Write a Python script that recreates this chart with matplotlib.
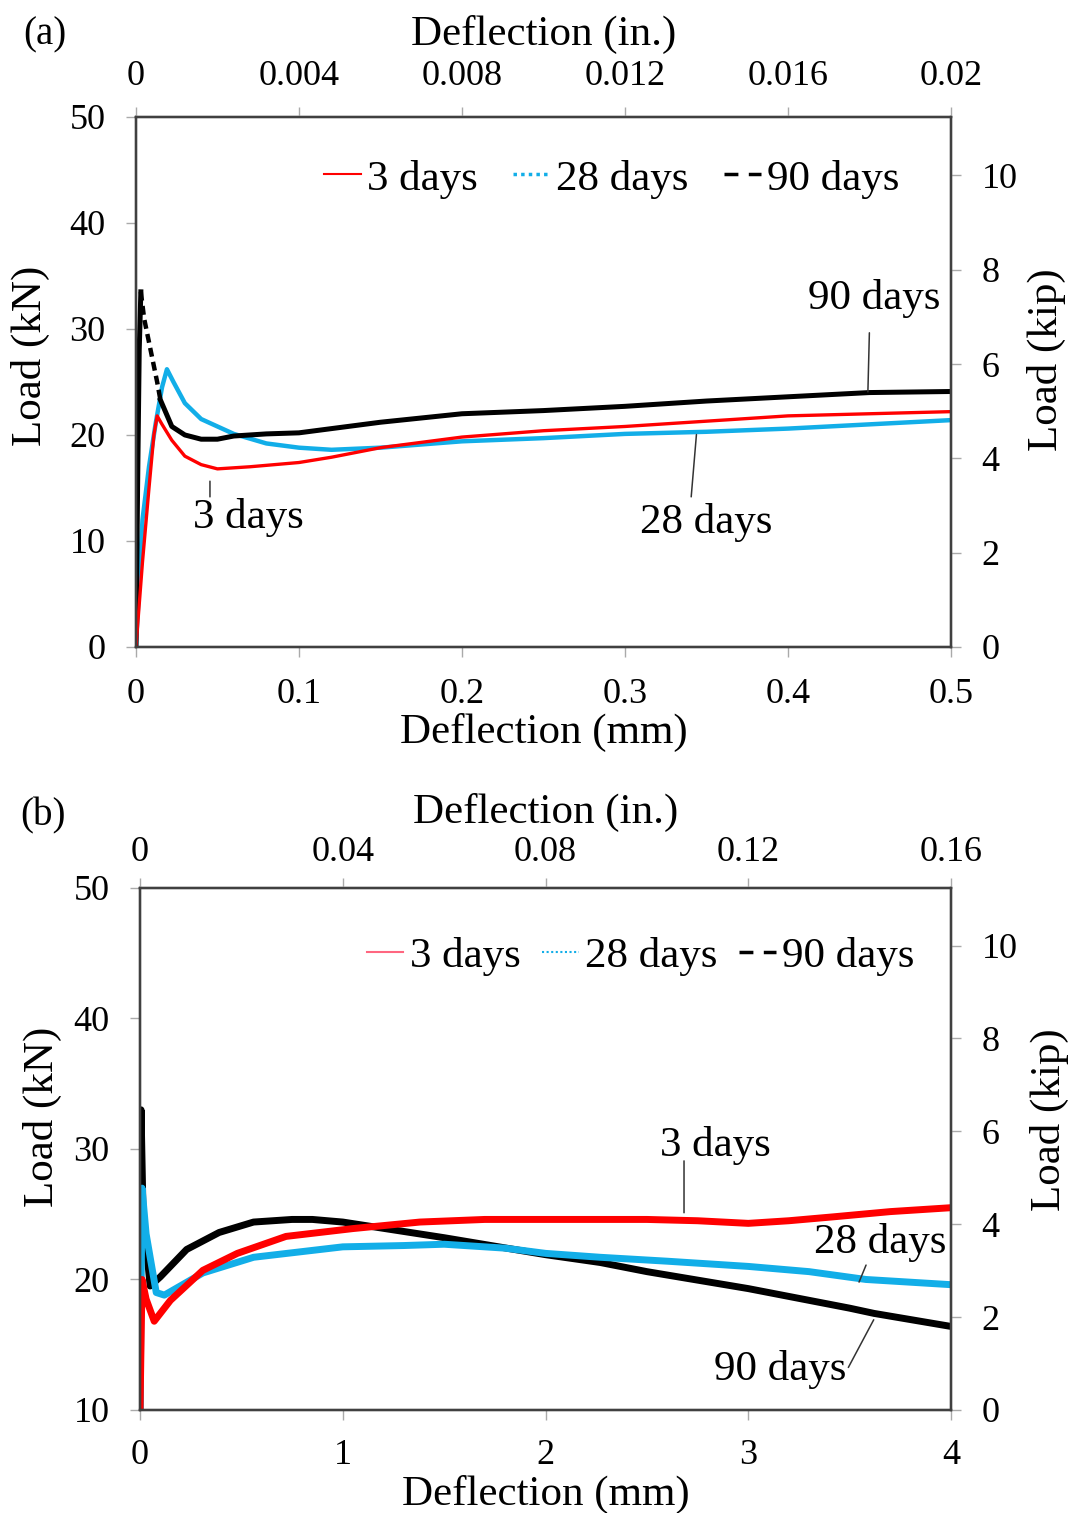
import numpy as np
import matplotlib.pyplot as plt
from matplotlib.lines import Line2D

plt.rcParams['font.family'] = ['Liberation Serif', 'DejaVu Serif']

# ---- panel (a) data: deflection (mm), load (kN)
a_x_3d = [0, 0.004, 0.008, 0.011, 0.013, 0.016, 0.022, 0.03, 0.04, 0.05, 0.07, 0.1,
          0.12, 0.15, 0.2, 0.25, 0.3, 0.35, 0.4, 0.45, 0.5]
a_y_3d = [0, 8, 15, 20, 21.8, 21, 19.5, 18, 17.2, 16.8, 17.0, 17.4,
          17.9, 18.8, 19.8, 20.4, 20.8, 21.3, 21.8, 22.0, 22.2]

a_x_28d = [0, 0.002, 0.004, 0.008, 0.012, 0.016, 0.019, 0.023, 0.03, 0.04, 0.05, 0.06,
           0.08, 0.1, 0.12, 0.15, 0.2, 0.25, 0.3, 0.35, 0.4, 0.45, 0.5]
a_y_28d = [0, 6, 12, 17, 21, 24.5, 26.2, 25, 23, 21.5, 20.8, 20.1,
           19.2, 18.8, 18.6, 18.8, 19.4, 19.7, 20.1, 20.3, 20.6, 21.0, 21.4]

a_x_90d_rise = [0, 0.001, 0.002, 0.003]
a_y_90d_rise = [0, 15, 28, 33.5]
a_x_90d_drop = [0.003, 0.005, 0.009, 0.013, 0.015]
a_y_90d_drop = [33.5, 31, 28, 25, 23.3]
a_x_90d = [0.015, 0.022, 0.03, 0.04, 0.05, 0.06, 0.08, 0.1, 0.15, 0.2, 0.25, 0.3,
           0.35, 0.4, 0.45, 0.5]
a_y_90d = [23.3, 20.8, 20.0, 19.6, 19.6, 19.9, 20.1, 20.2, 21.2, 22.0, 22.3, 22.7,
           23.2, 23.6, 24.0, 24.1]

# ---- panel (b) data
b_x_3d = [0, 0.01, 0.03, 0.07, 0.15, 0.31, 0.48, 0.72, 1.05, 1.38, 1.7, 2.0, 2.27,
          2.5, 2.75, 3.0, 3.2, 3.42, 3.7, 4.0]
b_y_3d = [10, 20, 18.5, 16.8, 18.4, 20.7, 22.0, 23.3, 23.9, 24.4, 24.6, 24.6, 24.6,
          24.6, 24.5, 24.3, 24.5, 24.8, 25.2, 25.5]

b_x_28d = [0, 0.01, 0.03, 0.08, 0.12, 0.31, 0.56, 0.89, 1.0, 1.3, 1.5, 1.8, 2.0,
           2.27, 2.6, 3.0, 3.3, 3.58, 4.0]
b_y_28d = [10, 27, 23.5, 19.0, 18.8, 20.5, 21.7, 22.3, 22.5, 22.6, 22.7, 22.4, 22.0,
           21.7, 21.4, 21.0, 20.6, 20.0, 19.6]

b_x_90d = [0, 0.005, 0.015, 0.05, 0.1, 0.23, 0.39, 0.56, 0.75, 0.85, 1.0, 1.5, 2.0,
           2.27, 2.5, 3.0, 3.5, 3.62, 4.0]
b_y_90d = [10, 33, 25, 19.5, 20.2, 22.3, 23.6, 24.4, 24.6, 24.6, 24.4, 23.2, 21.9,
           21.3, 20.6, 19.3, 17.8, 17.4, 16.4]

names = ['3 days', '28 days', '90 days']

KN_PER_KIP = 4.448
red = '#ff0000'
blue = '#12aee8'
spine_c = '#404040'
tick_fs = 26
lab_fs = 31


def style_axes(ax, axr, axt, xlim, xticks, xlabels, ylim, yticks,
               txlim, txticks, txlabels, pads):
    ax.set_xlim(xlim)
    ax.set_ylim(ylim)
    ax.set_xticks(xticks)
    ax.set_xticklabels(xlabels, fontsize=tick_fs)
    ax.set_yticks(yticks)
    ax.set_yticklabels([str(v) for v in yticks], fontsize=tick_fs)
    axr.set_ylim(0, 50 / KN_PER_KIP)
    axr.set_yticks([0, 2, 4, 6, 8, 10])
    axr.set_yticklabels(['0', '2', '4', '6', '8', '10'], fontsize=tick_fs)
    axt.set_xlim(txlim)
    axt.set_xticks(txticks)
    axt.set_xticklabels(txlabels, fontsize=tick_fs)
    for a in (ax, axr, axt):
        for s in a.spines.values():
            s.set_color(spine_c)
            s.set_linewidth(1.6)
        a.tick_params(length=7, width=1, color='#aaaaaa')
    ax.tick_params(axis='y', pad=15)
    ax.tick_params(axis='x', pad=pads['bottom'])
    axr.tick_params(axis='y', pad=15)
    axt.tick_params(axis='x', pad=pads['top'])
    ax.set_ylabel('Load (kN)', fontsize=lab_fs)
    ax.yaxis.set_label_coords(*pads['ylab'])
    ax.set_xlabel('Deflection (mm)', fontsize=lab_fs, labelpad=pads['xlabpad'])
    axr.set_ylabel('Load (kip)', fontsize=lab_fs)
    axr.yaxis.set_label_coords(*pads['rlab'])
    axt.set_xlabel('Deflection (in.)', fontsize=lab_fs, labelpad=pads['tlabpad'])


def legend_handles(red_c, dot_lw):
    return [Line2D([], [], color=red_c, lw=1.5),
            Line2D([], [], color=blue, lw=dot_lw, ls=(0, (1, 1.2))),
            Line2D([], [], color='black', lw=2.5, ls=(0, (4, 3)))]


fig = plt.figure(figsize=(10.68, 15.13), dpi=100)

# ---------------- (a)
ax1 = fig.add_axes([0.1273, 0.5724, 0.7631, 0.3503])
ax1r = ax1.twinx()
ax1t = ax1.twiny()
ax1.plot(a_x_28d, a_y_28d, color=blue, lw=3.2)
ax1.plot(a_x_90d_rise, a_y_90d_rise, color='black', lw=3.6)
ax1.plot(a_x_90d_drop, a_y_90d_drop, color='black', lw=3.2, ls=(0, (2, 1.2)))
ax1.plot(a_x_90d, a_y_90d, color='black', lw=3.6)
ax1.plot(a_x_3d, a_y_3d, color=red, lw=2.4)
style_axes(ax1, ax1r, ax1t, (0, 0.5), [0, 0.1, 0.2, 0.3, 0.4, 0.5],
           ['0', '0.1', '0.2', '0.3', '0.4', '0.5'], (0, 50), [0, 10, 20, 30, 40, 50],
           (0, 0.02), [0, 0.004, 0.008, 0.012, 0.016, 0.02],
           ['0', '0.004', '0.008', '0.012', '0.016', '0.02'],
           dict(bottom=15, top=10, xlabpad=2, tlabpad=11,
                ylab=(-0.106, 0.549), rlab=(1.093, 0.542)))

lead = dict(arrowstyle='-', color='#333333', lw=1.1)
ax1.annotate('', xy=(0.0454, 15.9), xytext=(0.0454, 13.9), arrowprops=lead)
ax1.text(0.069, 12.2, '3 days', fontsize=lab_fs, ha='center', va='center')
ax1.annotate('', xy=(0.344, 20.3), xytext=(0.3405, 13.9), arrowprops=lead)
ax1.text(0.350, 11.7, '28 days', fontsize=lab_fs, ha='center', va='center')
ax1.annotate('', xy=(0.449, 23.8), xytext=(0.450, 29.9), arrowprops=lead)
ax1.text(0.453, 32.9, '90 days', fontsize=lab_fs, ha='center', va='center')

ax1.legend(legend_handles(red, 2.5), names, loc='center right',
           bbox_to_anchor=(0.937, 0.883), ncol=3, frameon=False, fontsize=lab_fs,
           handlelength=0.85, handletextpad=0.15, columnspacing=0.82,
           borderpad=0, borderaxespad=0)
fig.text(0.042, 0.977, '(a)', fontsize=28, ha='center', va='center')

# ---------------- (b)
ax2 = fig.add_axes([0.1311, 0.0681, 0.7594, 0.3450])
ax2r = ax2.twinx()
ax2t = ax2.twiny()
ax2.plot(b_x_90d, b_y_90d, color='black', lw=5)
ax2.plot(b_x_28d, b_y_28d, color=blue, lw=5)
ax2.plot(b_x_3d, b_y_3d, color=red, lw=5)
style_axes(ax2, ax2r, ax2t, (0, 4), [0, 1, 2, 3, 4], ['0', '1', '2', '3', '4'],
           (10, 50), [10, 20, 30, 40, 50],
           (0, 0.16), [0, 0.04, 0.08, 0.12, 0.16],
           ['0', '0.04', '0.08', '0.12', '0.16'],
           dict(bottom=14, top=7, xlabpad=2, tlabpad=9,
                ylab=(-0.096, 0.561), rlab=(1.097, 0.556)))

ax2.annotate('', xy=(2.683, 24.9), xytext=(2.683, 29.3), arrowprops=lead)
ax2.text(2.836, 30.3, '3 days', fontsize=lab_fs, ha='center', va='center')
ax2.annotate('', xy=(3.541, 19.6), xytext=(3.586, 21.3), arrowprops=lead)
ax2.text(3.65, 22.8, '28 days', fontsize=lab_fs, ha='center', va='center')
ax2.annotate('', xy=(3.625, 17.1), xytext=(3.487, 13.07), arrowprops=lead)
ax2.text(3.157, 13.07, '90 days', fontsize=lab_fs, ha='center', va='center')

ax2.legend(legend_handles('#ff6680', 1.5), names, loc='center right',
           bbox_to_anchor=(0.955, 0.868), ncol=3, frameon=False, fontsize=lab_fs,
           handlelength=0.85, handletextpad=0.15, columnspacing=0.5,
           borderpad=0, borderaxespad=0)
fig.text(0.040, 0.461, '(b)', fontsize=28, ha='center', va='center')

fig.savefig('out.png', dpi=100)
